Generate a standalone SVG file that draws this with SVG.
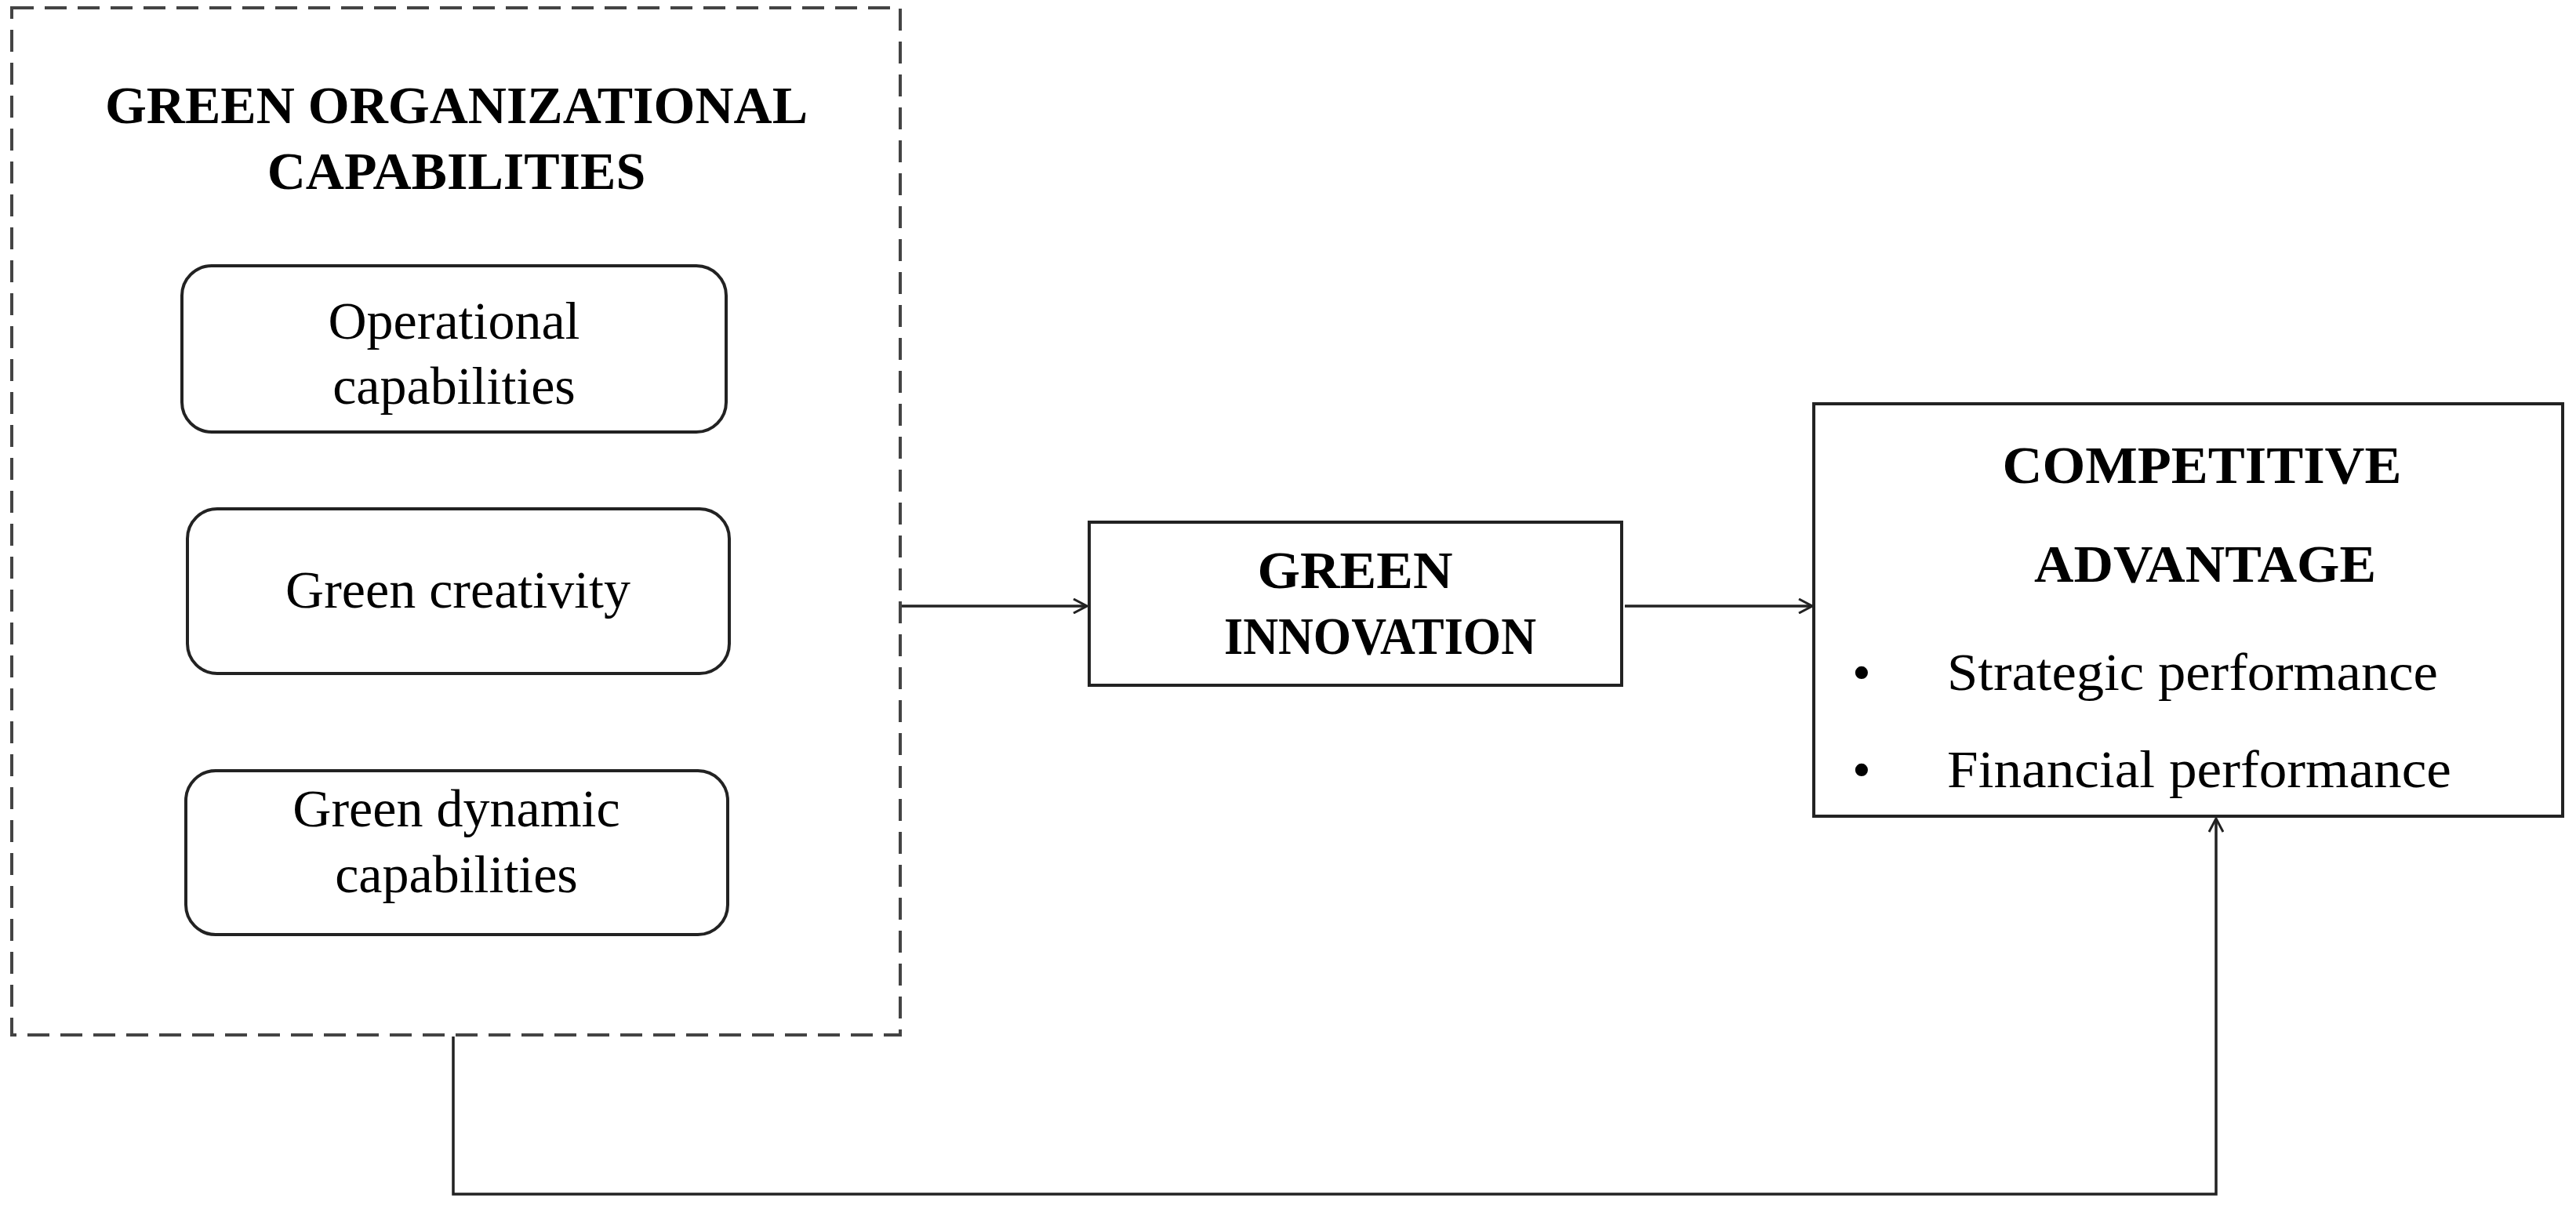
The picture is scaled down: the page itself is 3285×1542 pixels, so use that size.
<svg xmlns="http://www.w3.org/2000/svg" width="3285" height="1542" viewBox="0 0 3285 1542">
<style>
text{font-family:"Liberation Serif","Times New Roman",serif;fill:#000;font-size:68px}
.b{font-weight:bold}
.box{fill:#fff;stroke:#222;stroke-width:4}
.ln{fill:none;stroke:#222;stroke-width:3.5}
</style>
<defs><marker id="ar" viewBox="0 0 20 20" refX="19" refY="10" markerWidth="20" markerHeight="20" markerUnits="userSpaceOnUse" orient="auto"><path d="M2 1 L19 10 L2 19" fill="none" stroke="#222" stroke-width="3"/></marker></defs>
<rect width="3285" height="1542" fill="#fff"/>
<g id="goc">
<rect x="15" y="10" width="1133" height="1310" fill="none" stroke="#444" stroke-width="4" stroke-dasharray="28,14"/>
<text class="b" x="582" y="157" text-anchor="middle">GREEN ORGANIZATIONAL</text>
<text class="b" x="582" y="241" text-anchor="middle">CAPABILITIES</text>
</g>
<g id="op"><rect class="box" x="232" y="339" width="694" height="212" rx="38"/>
<text x="579" y="432" text-anchor="middle">Operational</text><text x="579" y="515" text-anchor="middle">capabilities</text></g>
<g id="cr"><rect class="box" x="239" y="649" width="691" height="210" rx="38"/>
<text x="584" y="775" text-anchor="middle">Green creativity</text></g>
<g id="dy"><rect class="box" x="237" y="983" width="691" height="209" rx="38"/>
<text x="582" y="1054" text-anchor="middle">Green dynamic</text><text x="582" y="1138" text-anchor="middle">capabilities</text></g>
<g id="gi"><rect class="box" x="1389" y="666" width="679" height="208"/>
<text class="b" x="1728" y="750" text-anchor="middle" textLength="249" lengthAdjust="spacingAndGlyphs">GREEN</text>
<text class="b" x="1760" y="834" text-anchor="middle" textLength="398" lengthAdjust="spacingAndGlyphs">INNOVATION</text></g>
<g id="ca"><rect class="box" x="2313" y="515" width="955" height="526"/>
<text class="b" x="2808" y="616" text-anchor="middle" textLength="509" lengthAdjust="spacingAndGlyphs">COMPETITIVE</text>
<text class="b" x="2812" y="742" text-anchor="middle" textLength="436" lengthAdjust="spacingAndGlyphs">ADVANTAGE</text>
<text x="2362" y="880">•</text><text x="2483" y="880" textLength="626" lengthAdjust="spacingAndGlyphs">Strategic performance</text>
<text x="2362" y="1004">•</text><text x="2483" y="1004" textLength="643" lengthAdjust="spacingAndGlyphs">Financial performance</text></g>
<g id="connectors">
<line class="ln" x1="1150" y1="773" x2="1386" y2="773" marker-end="url(#ar)"/>
<line class="ln" x1="2072" y1="773" x2="2311" y2="773" marker-end="url(#ar)"/>
<path class="ln" d="M578 1322 V1523 H2826 V1044" marker-end="url(#ar)"/>
</g>
</svg>
